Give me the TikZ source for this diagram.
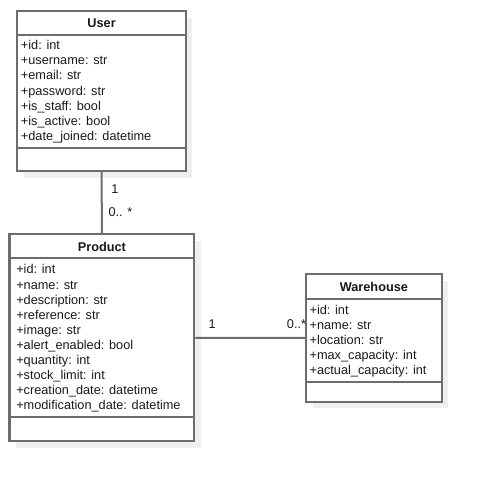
\documentclass[tikz,border=0pt]{standalone}
\usepackage{fontspec}
\setmainfont{Liberation Sans}
\usetikzlibrary{shadows}
\definecolor{boxgray}{HTML}{6D6D6D}
\definecolor{shadowgray}{HTML}{EFEFEF}
\definecolor{textgray}{HTML}{1A1A1A}

\begin{document}
\begin{tikzpicture}[x=0.75pt,y=-0.75pt,
    umlclass/.style={draw=boxgray,line width=1.5pt,fill=white,inner sep=0pt,
      drop shadow={shadow xshift=5pt,shadow yshift=-5pt,fill=shadowgray,opacity=1}},
    divider/.style={draw=boxgray,line width=1.5pt},
    title/.style={font=\bfseries\fontsize{9.55}{11.5}\selectfont,text=textgray,inner sep=0pt},
    attr/.style={anchor=base west,font=\fontsize{9.55}{11.5}\selectfont,text=textgray,inner sep=0pt},
    mult/.style={anchor=base west,font=\fontsize{9.55}{11.5}\selectfont,text=textgray,inner sep=0pt},
    assoc/.style={draw=boxgray,line width=1.5pt}]
  \useasboundingbox (0,0) rectangle (483,482);

  % class boxes
  \node [umlclass,minimum width=126.2pt,minimum height=120pt] (user) at (101.6,91) {};
  \node [umlclass,minimum width=138.6pt,minimum height=154.9pt] (product) at (101.9,337.75) {};
  \node [umlclass,minimum width=101.8pt,minimum height=95.8pt] (warehouse) at (373.85,337.85) {};

  \draw [divider] (17.5,34.5) -- (185.7,34.5);
  \draw [divider] (17.5,147.7) -- (185.7,147.7);
  \draw [divider] (9.5,258) -- (194.3,258);
  \draw [divider] (9.5,416.7) -- (194.3,416.7);
  \draw [divider] (306,299) -- (441.7,299);
  \draw [divider] (306,382) -- (441.7,382);

  \node [title] (user-title) at (101.6,22.7) {User};
  \node [title] (product-title) at (101.9,246.7) {Product};
  \node [title] (warehouse-title) at (373.9,286.7) {Warehouse};

  \foreach \a [count=\i] in {+id: int,+username: str,+email: str,+password: str,
      +is\_staff: bool,+is\_active: bool,+date\_joined: datetime}
    \node [attr] (user-\i) at (20.7,{34.3+15.2*\i}) {\a};
  \foreach \a [count=\i] in {+id: int,+name: str,+description: str,+reference: str,
      +image: str,+alert\_enabled: bool,+quantity: int,+stock\_limit: int,
      +creation\_date: datetime,+modification\_date: datetime}
    \node [attr] (product-\i) at (16,{258.9+15.08*\i}) {\a};
  \foreach \a [count=\i] in {+id: int,+name: str,+location: str,+max\_capacity: int,
      +actual\_capacity: int}
    \node [attr] (warehouse-\i) at (309.3,{299.7+15*\i}) {\a};

  % associations
  \draw [assoc] (user.south) -- (product.north);
  \draw [assoc] (product.east) -- (warehouse.west);
  \node [mult] (user-one) at (111,193) {1};
  \node [mult] (product-many) at (108.3,216.7) {0.. *};
  \node [mult] (product-one) at (208.3,328) {1};
  \node [mult] (warehouse-many) at (286.7,328) {0..*};
\end{tikzpicture}
\end{document}
